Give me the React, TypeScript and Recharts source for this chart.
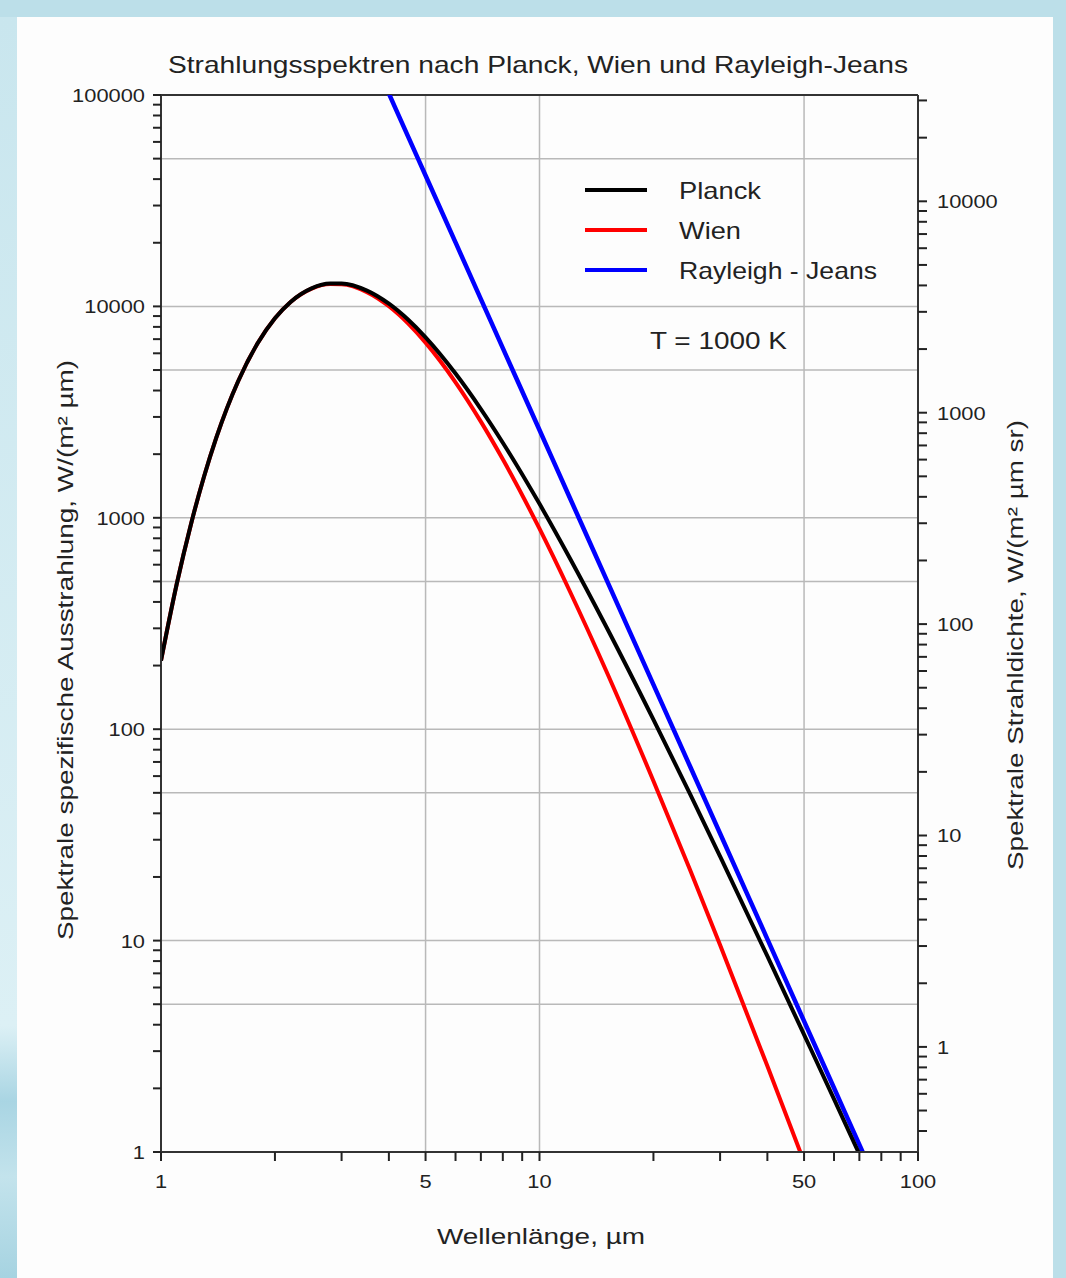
import React from 'react';
import { LineChart, Line, XAxis, YAxis, ReferenceLine, Legend } from 'recharts';

// Wellenlänge in µm, Werte in W/(m² µm) bei T = 1000 K
const wavelengths = [1, 1.1, 1.2, 1.3, 1.4, 1.6, 1.8, 2, 2.2, 2.5, 2.8, 3, 3.5, 4, 4.5, 5, 6, 7, 8, 10, 12, 15, 20, 25, 30, 40, 50, 60, 70, 75];
const planck = [211, 485, 933, 1573, 2394, 4438, 6690, 8789, 10503, 12171, 12829, 12829, 11874, 10296, 8640, 7140, 4812, 3269, 2266, 1164, 649, 306, 111, 49.3, 25.0, 8.44, 3.59, 1.78, 0.976, 0.746];
const wien = [211, 485, 933, 1573, 2394, 4437, 6687, 8783, 10488, 12133, 12753, 12723, 11680, 10014, 8287, 6738, 4375, 2851, 1891, 888, 453, 189, 56.9, 21.6, 9.53, 2.55, 0.898, 0.379, null, null];
const rayleighJeans = [null, null, null, null, null, null, null, null, null, null, null, null, 173308, 101590, 63423, 41611, 20067, 10832, 6349, 2601, 1254, 514, 162.5, 66.6, 32.1, 10.16, 4.16, 2.007, 1.083, 0.822];

const xTicks = [1, 2, 3, 4, 5, 6, 7, 8, 9, 10, 20, 30, 40, 50, 60, 70, 80, 90, 100];
const xTickLabels = [1, 5, 10, 50, 100];
const leftDecades = [1, 10, 100, 1000, 10000, 100000];
const rightDecades = [1, 10, 100, 1000, 10000];
const minorSteps = [2, 3, 4, 5, 6, 7, 8, 9];
const rightLowTicks = [0.4, 0.5, 0.6, 0.7, 0.8, 0.9];
const rightHighTicks = [20000, 30000];
const gridX = [5, 10, 50];
const gridY = [5, 10, 50, 100, 500, 1000, 5000, 10000, 50000];

const legendItems = [
  { name: 'Planck', color: '#000000', width: 82 },
  { name: 'Wien', color: '#ff0000', width: 62 },
  { name: 'Rayleigh - Jeans', color: '#0000ff', width: 198 },
];

const font = '"Liberation Sans", Arial, Helvetica, sans-serif';
const textColor = '#222';
const axisColor = '#333';
const gridColor = '#b9b9b9';

const leftTicks = leftDecades.flatMap((d) => (d === 100000 ? [d] : [d, ...minorSteps.map((m) => m * d)]));
const rightTicks = [
  ...rightLowTicks,
  ...rightDecades.flatMap((d) => (d === 10000 ? [d] : [d, ...minorSteps.map((m) => m * d)])),
  ...rightHighTicks,
];

const data = wavelengths.map((x, i) => ({
  x,
  planck: planck[i],
  wien: wien[i],
  rj: rayleighJeans[i],
}));

const tickText = (value: number, anchor: 'start' | 'middle' | 'end') => (
  <g transform="scale(1.15,1)">
    <text x={0} y={0} textAnchor={anchor} dominantBaseline="central" fontSize={19} fill={textColor} fontFamily={font}>
      {value}
    </text>
  </g>
);

const LeftTick = (props: any) => {
  const { x, y, payload } = props;
  if (!leftDecades.includes(payload.value)) return <g />;
  return <g transform={`translate(${x},${y})`}>{tickText(payload.value, 'end')}</g>;
};

const RightTick = (props: any) => {
  const { x, y, payload } = props;
  if (!rightDecades.includes(payload.value)) return <g />;
  return <g transform={`translate(${x},${y})`}>{tickText(payload.value, 'start')}</g>;
};

const BottomTick = (props: any) => {
  const { x, y, payload } = props;
  if (!xTickLabels.includes(payload.value)) return <g />;
  return <g transform={`translate(${x},${y + 16})`}>{tickText(payload.value, 'middle')}</g>;
};

const renderLegend = () => (
  <svg width={330} height={130}>
    {legendItems.map((item, i) => (
      <g key={item.name}>
        <line x1={15} x2={77} y1={25 + i * 40} y2={25 + i * 40} stroke={item.color} strokeWidth={4} />
        <text
          x={109}
          y={25 + i * 40}
          dominantBaseline="central"
          fontSize={24}
          fill={textColor}
          fontFamily={font}
          textLength={item.width}
          lengthAdjust="spacingAndGlyphs"
        >
          {item.name}
        </text>
      </g>
    ))}
  </svg>
);

const App = () => {
  return (
    <div style={{ position: 'absolute', left: 0, top: 0, width: 1066, height: 1278, overflow: 'hidden', background: '#bcdfe9' }}>
      <div
        style={{
          position: 'absolute',
          left: 0,
          top: 17,
          width: 17,
          height: 1261,
          background: 'linear-gradient(to bottom, #c9e6ee 0%, #dcf0f5 80%, #a9d5e3 86%, #c3e3ec 92%, #a6d3e1 100%)',
        }}
      />
      <div style={{ position: 'absolute', left: 17, top: 17, width: 1036, height: 1261, background: '#fdfdfd' }} />

      <div style={{ position: 'absolute', left: 0, top: 0 }}>
        <LineChart width={1066} height={1278} data={data} margin={{ top: 95, right: 0, bottom: 0, left: 0 }}>
          <XAxis
            dataKey="x"
            type="number"
            scale="log"
            domain={[1, 100]}
            allowDataOverflow
            ticks={xTicks}
            interval={0}
            height={126}
            tick={<BottomTick />}
            tickSize={9}
            tickMargin={4}
            axisLine={{ stroke: axisColor, strokeWidth: 2 }}
            tickLine={{ stroke: textColor, strokeWidth: 2 }}
          />
          <YAxis
            yAxisId="left"
            type="number"
            scale="log"
            domain={[1, 100000]}
            allowDataOverflow
            ticks={leftTicks}
            interval={0}
            width={161}
            tick={<LeftTick />}
            tickSize={8}
            tickMargin={8}
            axisLine={{ stroke: axisColor, strokeWidth: 2 }}
            tickLine={{ stroke: textColor, strokeWidth: 2 }}
          />
          <YAxis
            yAxisId="right"
            orientation="right"
            type="number"
            scale="log"
            domain={[1 / Math.PI, 100000 / Math.PI]}
            allowDataOverflow
            ticks={rightTicks}
            interval={0}
            width={148}
            tick={<RightTick />}
            tickSize={9}
            tickMargin={10}
            axisLine={{ stroke: axisColor, strokeWidth: 2 }}
            tickLine={{ stroke: textColor, strokeWidth: 2 }}
          />

          {gridY.map((v) => (
            <ReferenceLine key={`gy-${v}`} yAxisId="left" y={v} stroke={gridColor} strokeWidth={1.5} />
          ))}
          {gridX.map((v) => (
            <ReferenceLine key={`gx-${v}`} yAxisId="left" x={v} stroke={gridColor} strokeWidth={1.5} />
          ))}
          <ReferenceLine yAxisId="left" y={100000} stroke={axisColor} strokeWidth={2} />

          <Legend layout="horizontal" verticalAlign="middle" align="center" content={renderLegend} wrapperStyle={{ position: 'absolute', left: 570, top: 165, width: 330, height: 130 }} />

          <Line yAxisId="left" dataKey="wien" name="Wien" type="monotone" stroke="#ff0000" strokeWidth={4} dot={false} connectNulls isAnimationActive={false} />
          <Line yAxisId="left" dataKey="rj" name="Rayleigh-Jeans" type="monotone" stroke="#0000ff" strokeWidth={4.5} dot={false} connectNulls isAnimationActive={false} />
          <Line yAxisId="left" dataKey="planck" name="Planck" type="monotone" stroke="#000000" strokeWidth={4} dot={false} connectNulls isAnimationActive={false} />
        </LineChart>
      </div>

      <svg width={1066} height={1278} style={{ position: 'absolute', left: 0, top: 0, pointerEvents: 'none' }}>
        <text x={538} y={64} textAnchor="middle" dominantBaseline="central" fontSize={24} fill={textColor} fontFamily={font} textLength={740} lengthAdjust="spacingAndGlyphs">
          Strahlungsspektren nach Planck, Wien und Rayleigh-Jeans
        </text>
        <text x={650} y={340} dominantBaseline="central" fontSize={24} fill={textColor} fontFamily={font} textLength={137} lengthAdjust="spacingAndGlyphs">
          T = 1000 K
        </text>
        <text x={541} y={1236} textAnchor="middle" dominantBaseline="central" fontSize={22} fill={textColor} fontFamily={font} textLength={208} lengthAdjust="spacingAndGlyphs">
          Wellenlänge, µm
        </text>
        <text transform="translate(65,650) rotate(-90)" textAnchor="middle" dominantBaseline="central" fontSize={22} fill={textColor} fontFamily={font} textLength={580} lengthAdjust="spacingAndGlyphs">
          Spektrale spezifische Ausstrahlung, W/(m² µm)
        </text>
        <text transform="translate(1015,645) rotate(-90)" textAnchor="middle" dominantBaseline="central" fontSize={22} fill={textColor} fontFamily={font} textLength={450} lengthAdjust="spacingAndGlyphs">
          Spektrale Strahldichte, W/(m² µm sr)
        </text>
      </svg>
    </div>
  );
};

export default App;
